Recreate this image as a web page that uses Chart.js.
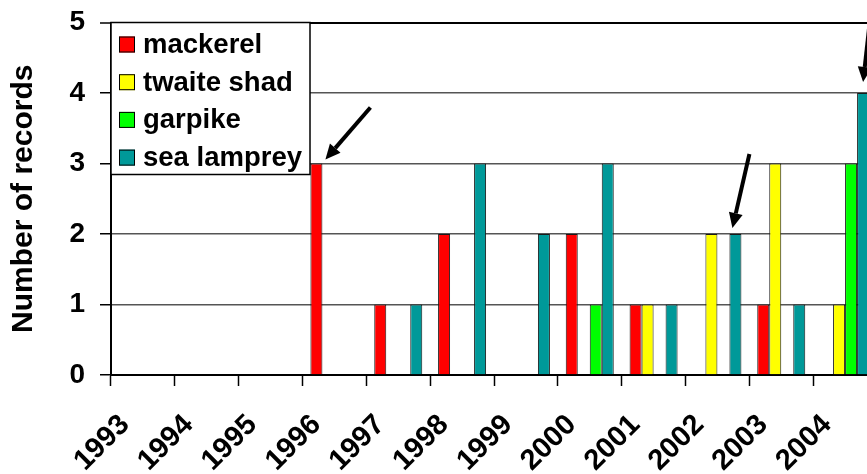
<!DOCTYPE html>
<html>
<head>
<meta charset="utf-8">
<script src="https://cdn.jsdelivr.net/npm/chart.js@4/dist/chart.umd.min.js"></script>
<style>
  html, body { margin: 0; padding: 0; background: #fff; overflow: hidden; }
  #wrap { width: 867px; height: 474px; overflow: hidden; position: relative; }
  canvas { display: block; }
</style>
</head>
<body>
<div id="wrap"><canvas id="c" width="880" height="474"></canvas></div>
<script>
// Yearly number of records per species
const years      = ['1993', '1994', '1995', '1996', '1997', '1998', '1999', '2000', '2001', '2002', '2003', '2004'];
const mackerel   = [0, 0, 0, 3, 1, 2, 0, 2, 1, 0, 1, 0];
const twaiteShad = [0, 0, 0, 0, 0, 0, 0, 0, 1, 2, 3, 1];
const garpike    = [0, 0, 0, 0, 0, 0, 0, 1, 0, 0, 0, 3];
const seaLamprey = [0, 0, 0, 0, 1, 3, 2, 3, 1, 2, 1, 4];
const seriesNames = ['mackerel', 'twaite shad', 'garpike', 'sea lamprey'];
const yTicks     = [0, 1, 2, 3, 4, 5];
// Records pointed out with an arrow: series index and year
const highlighted = [
  { series: 0, year: '1996' },
  { series: 3, year: '2002' },
  { series: 3, year: '2004' }
];

const FONT = "'Liberation Sans', Arial, Helvetica, sans-serif";
Chart.defaults.font.family = FONT;
Chart.defaults.color = '#000';

// Framed legend in the upper left corner of the plot
const legendBox = {
  id: 'legendBox',
  afterDraw(chart, args, o) {
    const ctx = chart.ctx;
    const x = chart.chartArea.left, y = chart.chartArea.top;
    ctx.save();
    ctx.fillStyle = '#fff';
    ctx.fillRect(x, y, o.width, o.height);
    ctx.strokeStyle = '#000';
    ctx.lineWidth = 1.5;
    ctx.strokeRect(x, y, o.width, o.height);
    ctx.font = 'bold ' + o.fontSize + 'px ' + FONT;
    ctx.textBaseline = 'middle';
    chart.data.datasets.forEach((ds, i) => {
      const cy = y + o.firstRow + i * o.rowGap;
      ctx.fillStyle = ds.backgroundColor;
      ctx.fillRect(x + 8, cy - 8, 16, 16);
      ctx.lineWidth = 1;
      ctx.strokeStyle = '#000';
      ctx.strokeRect(x + 8.5, cy - 7.5, 15, 15);
      ctx.fillStyle = '#000';
      ctx.fillText(ds.label, x + 32, cy + 1);
    });
    ctx.restore();
  }
};

// Arrows pointing at selected bars
const arrows = {
  id: 'arrows',
  afterDatasetsDraw(chart, args, o) {
    const ctx = chart.ctx;
    ctx.save();
    highlighted.forEach((h, i) => {
      const bar = chart.getDatasetMeta(h.series).data[years.indexOf(h.year)];
      const g = o.geometry[i];
      const tx = bar.x + g.tip[0], ty = bar.y + g.tip[1];
      const sx = tx + g.tail[0], sy = ty + g.tail[1];
      const ang = Math.atan2(ty - sy, tx - sx);
      const hl = o.headLength, hw = o.headWidth;
      const bx = tx - hl * Math.cos(ang), by = ty - hl * Math.sin(ang);
      ctx.strokeStyle = '#000';
      ctx.fillStyle = '#000';
      ctx.lineWidth = o.lineWidth;
      ctx.beginPath();
      ctx.moveTo(sx, sy);
      ctx.lineTo(bx, by);
      ctx.stroke();
      ctx.beginPath();
      ctx.moveTo(tx, ty);
      ctx.lineTo(bx + hw * Math.sin(ang), by - hw * Math.cos(ang));
      ctx.lineTo(bx - hw * Math.sin(ang), by + hw * Math.cos(ang));
      ctx.closePath();
      ctx.fill();
    });
    ctx.restore();
  }
};

const colors = ['#ff0000', '#ffff00', '#00ff00', '#009999'];
const values = [mackerel, twaiteShad, garpike, seaLamprey];

new Chart(document.getElementById('c'), {
  type: 'bar',
  data: {
    labels: years,
    datasets: seriesNames.map((name, i) => ({
      label: name,
      data: values[i],
      backgroundColor: colors[i],
      borderColor: '#1a1a1a',
      borderWidth: 1
    }))
  },
  options: {
    responsive: false,
    animation: false,
    devicePixelRatio: 1,
    layout: { padding: { top: 22.5, right: 3, left: 0, bottom: 0 } },
    datasets: { bar: { categoryPercentage: 0.752, barPercentage: 1 } },
    plugins: {
      legend: { display: false },
      tooltip: { enabled: false },
      legendBox: { width: 199, height: 152, firstRow: 22, rowGap: 37.7, fontSize: 27.5 },
      arrows: {
        lineWidth: 4, headLength: 15, headWidth: 7,
        geometry: [
          { tip: [9, -4], tail: [45, -52] },
          { tip: [-3, -6], tail: [17, -74] },
          { tip: [0, -11], tail: [7, -63] }
        ]
      }
    },
    scales: {
      x: {
        grid: { drawOnChartArea: false, drawTicks: true, tickLength: 11, tickColor: '#000', tickWidth: 1.5, offset: true },
        border: { color: '#000', width: 2 },
        ticks: { autoSkip: false, minRotation: 45, maxRotation: 45, color: '#000', padding: 22, labelOffset: -18,
                 font: { size: 29, weight: 'bold' } },
        afterFit(s) { s.height = 99; s.paddingLeft = 0; s.paddingRight = 0; }
      },
      y: {
        min: 0, max: 5,
        afterBuildTicks(s) { s.ticks = yTicks.map(v => ({ value: v })); },
        grid: {
          color: c => (c.tick && c.tick.value === 5 ? '#000' : '#555'),
          lineWidth: c => (c.tick && c.tick.value === 5 ? 2 : 1.5),
          tickLength: 11, tickColor: '#000', tickWidth: 1.5
        },
        border: { color: '#000', width: 2 },
        ticks: { color: '#000', padding: 15, font: { size: 28, weight: 'bold' } },
        title: { display: true, text: 'Number of records', color: '#000',
                 font: { size: 30, weight: 'bold' }, padding: { top: 6, bottom: 0 } },
        afterFit(s) { s.width = 111; s.paddingTop = 0; s.paddingBottom = 0; }
      }
    }
  },
  plugins: [legendBox, arrows]
});
</script>
</body>
</html>
